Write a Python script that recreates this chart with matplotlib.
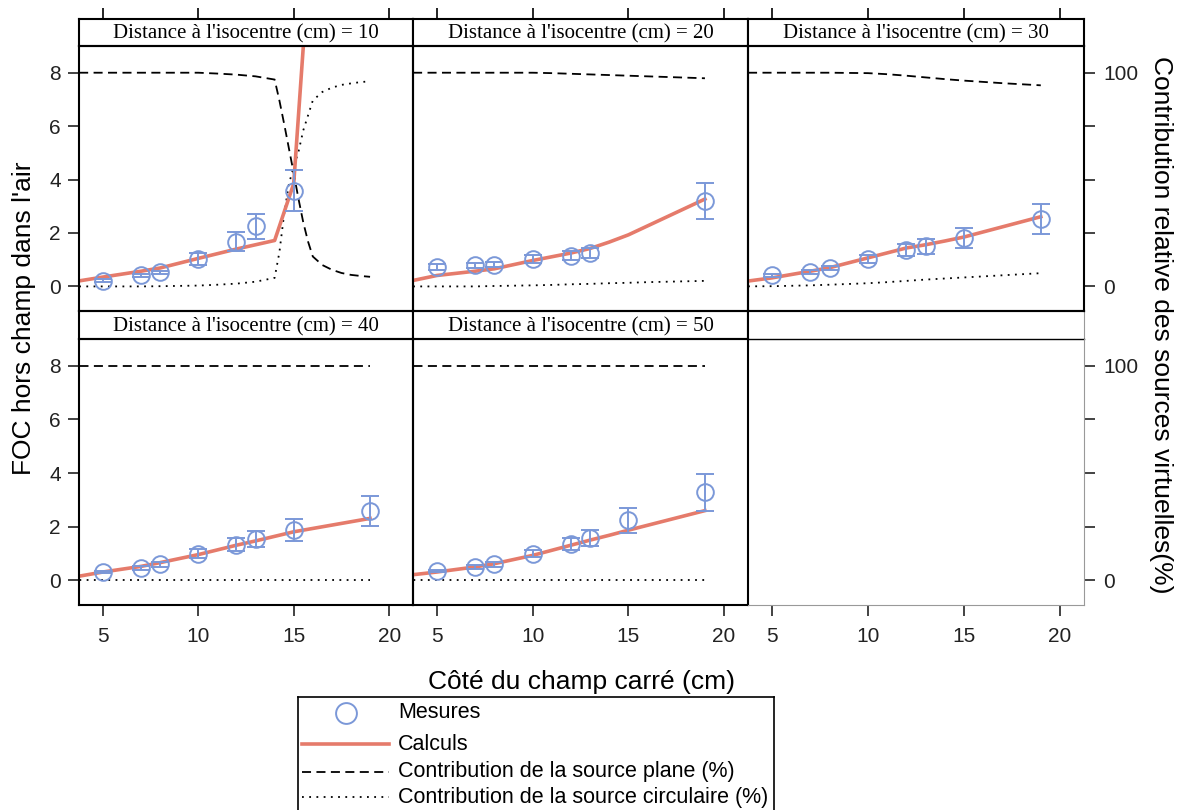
import numpy as np
import matplotlib
matplotlib.use("Agg")
import matplotlib.pyplot as plt

plt.rcParams['font.family'] = ['Liberation Sans', 'DejaVu Sans']

W, H = 1181, 810
nan = np.nan

# distances a l'isocentre (un panneau par distance)
distances = [10, 20, 30, 40, 50]

# mesures (cercles + barres d'erreur)
field = [5, 7, 8, 10, 12, 13, 15, 19]
mes_10 = [0.22, 0.41, 0.53, 1.02, 1.68, 2.25, 3.58, nan]
err_10 = [0.04, 0.05, 0.06, 0.22, 0.35, 0.47, 0.76, nan]
mes_20 = [0.72, 0.79, 0.82, 1.03, 1.15, 1.25, nan, 3.21]
err_20 = [0.12, 0.10, 0.10, 0.16, 0.17, 0.20, nan, 0.67]
mes_30 = [0.41, 0.53, 0.69, 1.03, 1.35, 1.50, 1.81, 2.53]
err_30 = [0.06, 0.07, 0.08, 0.16, 0.22, 0.28, 0.39, 0.55]
mes_40 = [0.31, 0.46, 0.60, 1.00, 1.33, 1.53, 1.87, 2.59]
err_40 = [0.05, 0.07, 0.10, 0.16, 0.24, 0.30, 0.40, 0.57]
mes_50 = [0.35, 0.50, 0.60, 1.00, 1.35, 1.58, 2.24, 3.28]
err_50 = [0.05, 0.08, 0.10, 0.14, 0.22, 0.30, 0.47, 0.70]

# calculs (ligne)
calc_x = [3, 5, 7, 8, 10, 12, 13, 14, 15, 19]
calc_10 = [0.12, 0.35, 0.57, 0.69, 1.05, 1.40, 1.56, 1.72, 3.85, 44.7]
calc_20 = [0.11, 0.41, 0.57, 0.66, 0.97, 1.25, 1.42, 1.66, 1.93, 3.27]
calc_30 = [0.13, 0.32, 0.57, 0.70, 1.07, 1.44, 1.56, 1.70, 1.85, 2.61]
calc_40 = [0.06, 0.31, 0.52, 0.66, 0.96, 1.31, 1.47, 1.64, 1.81, 2.31]
calc_50 = [0.15, 0.31, 0.50, 0.62, 0.93, 1.31, 1.50, 1.68, 1.87, 2.60]

# contributions des sources (%)
cx_10 = [3, 5, 7, 8, 10, 11, 12, 13, 14, 14.25, 14.5, 14.75, 15, 15.25,
         15.5, 15.75, 16, 16.5, 17, 17.5, 18, 18.5, 19]
plane_10 = [100, 100, 100, 100, 100, 99.6, 99.1, 98.3, 96.8, 87, 76, 64.5,
            53, 41, 30, 21, 14, 10, 7.8, 6.3, 5.4, 4.9, 4.5]
circ_10 = [0, 0, 0, 0.1, 0.4, 0.8, 1.3, 2.2, 4, 16, 34, 48, 56, 63, 73, 80,
           87, 91, 93, 94.3, 95, 95.6, 96]
cx = [3, 5, 7, 8, 10, 11, 12, 13, 14, 15, 16, 17, 18, 19]
plane_20 = [100, 100, 100, 100, 100, 99.8, 99.5, 99.2, 98.9, 98.6, 98.3, 98.0, 97.7, 97.4]
circ_20 = [0, 0, 0, 0.2, 0.5, 0.7, 1.0, 1.2, 1.5, 1.7, 2.0, 2.2, 2.4, 2.6]
plane_30 = [100, 100, 100, 100, 99.8, 99.3, 98.6, 97.8, 97.0, 96.3, 95.7, 95.1, 94.6, 94.1]
circ_30 = [0, 0.1, 0.5, 0.8, 1.5, 2.0, 2.6, 3.2, 3.7, 4.2, 4.7, 5.2, 5.7, 6.2]
cx_flat = [3, 19]
plane_40 = [100, 100]
circ_40 = [0, 0]
plane_50 = [100, 100]
circ_50 = [0, 0]

panels = [
    (mes_10, err_10, calc_10, cx_10, plane_10, circ_10),
    (mes_20, err_20, calc_20, cx, plane_20, circ_20),
    (mes_30, err_30, calc_30, cx, plane_30, circ_30),
    (mes_40, err_40, calc_40, cx_flat, plane_40, circ_40),
    (mes_50, err_50, calc_50, cx_flat, plane_50, circ_50),
]

blue = '#7b98d8'
salmon = '#e57b6b'


def box(x0, x1, y0, y1):
    return [x0 / W, 1 - y1 / H, (x1 - x0) / W, (y1 - y0) / H]


col_edges = [(79, 413), (413, 748), (748, 1084)]
row_edges = [((19, 46), (46, 311)), ((311, 339), (339, 605))]

fig = plt.figure(figsize=(W / 100, H / 100), dpi=100)

for k in range(6):
    row, col = k // 3, k % 3
    x0, x1 = col_edges[col]
    (sy0, sy1), (py0, py1) = row_edges[row]

    # bandeau
    st = fig.add_axes(box(x0, x1, sy0, sy1))
    st.set_xlim(3.75, 21.25)
    st.set_yticks([])
    for sp in st.spines.values():
        sp.set_linewidth(1.5)
    if row == 0:
        st.xaxis.tick_top()
        st.set_xticks([5, 10, 15, 20], ['', '', '', ''])
        st.tick_params(axis='x', direction='out', length=8, width=1.2)
    else:
        st.set_xticks([])
    if k < 5:
        st.text(0.5, 0.45, "Distance à l'isocentre (cm) = %d" % distances[k],
                ha='center', va='center', transform=st.transAxes,
                family='Liberation Serif', fontsize=15)
    else:
        st.spines['right'].set_color('#999999')
        st.spines['right'].set_linewidth(0.8)
        st.spines['bottom'].set_linewidth(1.0)

    # panneau
    ax = fig.add_axes(box(x0, x1, py0, py1))
    ax.set_xlim(3.75, 21.25)
    ax.set_ylim(-0.92, 9.0)
    tw = ax.twinx()
    tw.set_ylim(-11.5, 112.5)
    ax.set_zorder(tw.get_zorder() + 1)
    ax.patch.set_visible(False)
    for sp in tw.spines.values():
        sp.set_visible(False)
    for sp in ax.spines.values():
        sp.set_linewidth(1.5)

    ax.set_xticks([5, 10, 15, 20])
    ax.set_yticks([0, 2, 4, 6, 8])
    ax.tick_params(axis='both', direction='out', length=8, width=1.2,
                   labelsize=15, colors='#222222')
    ax.tick_params(axis='x', pad=8)
    ax.tick_params(axis='y', pad=5)
    if row == 0:
        ax.tick_params(axis='x', bottom=False, labelbottom=False)
    if col != 0:
        ax.tick_params(axis='y', left=False, labelleft=False)
    if col == 2:
        tw.set_yticks([0, 25, 50, 75, 100], ['0', '', '', '', '100'])
        tw.tick_params(axis='y', direction='out', length=8, width=1.2,
                       labelsize=15, colors='#222222', pad=6)
    else:
        tw.set_yticks([])

    if k < 5:
        mes, err, calc, cxs, plane, circ = panels[k]
        tw.plot(cxs, plane, color='black', lw=1.3, linestyle=(0, (5, 3)))
        tw.plot(cxs, circ, color='black', lw=1.3, linestyle=(0, (1, 3)))
        ax.plot(calc_x, calc, color=salmon, lw=2.6)
        ax.errorbar(field, mes, yerr=err, fmt='o', mfc='none', mec=blue,
                    ms=12, mew=1.4, ecolor=blue, elinewidth=1.4,
                    capsize=6.5, capthick=1.4)
    else:
        for name in ['bottom', 'right']:
            ax.spines[name].set_color('#999999')
            ax.spines[name].set_linewidth(0.8)
        ax.spines['left'].set_visible(False)
        ax.spines['top'].set_visible(False)

fig.text(24 / W, 1 - 318 / H, "FOC hors champ dans l'air", rotation=90,
         ha='center', va='center', fontsize=19)
fig.text(1161 / W, 1 - 325 / H, "Contribution relative des sources virtuelles(%)",
         rotation=270, ha='center', va='center', fontsize=19)
fig.text(581 / W, 1 - 682 / H, "Côté du champ carré (cm)",
         ha='center', va='center', fontsize=19)

# legende
lg = fig.add_axes(box(298, 774, 697, 822))
lg.set_xlim(0, 476)
lg.set_ylim(125, 0)
lg.set_xticks([])
lg.set_yticks([])
for sp in lg.spines.values():
    sp.set_linewidth(1.2)
lg.plot([48], [16], 'o', mfc='none', mec=blue, ms=15, mew=1.4)
lg.plot([4, 91], [47, 47], color=salmon, lw=2.6)
lg.plot([4, 91], [75, 75], color='black', lw=1.3, linestyle=(0, (5, 3)))
lg.plot([4, 91], [100, 100], color='black', lw=1.3, linestyle=(0, (1, 3)))
labels = ["Mesures", "Calculs", "Contribution de la source plane (%)",
          "Contribution de la source circulaire (%)"]
for lab, yy in zip(labels, [16, 47, 75, 100]):
    lg.text(100, yy, lab, ha='left', va='center', fontsize=15.5)

fig.savefig("out.png", dpi=100)
